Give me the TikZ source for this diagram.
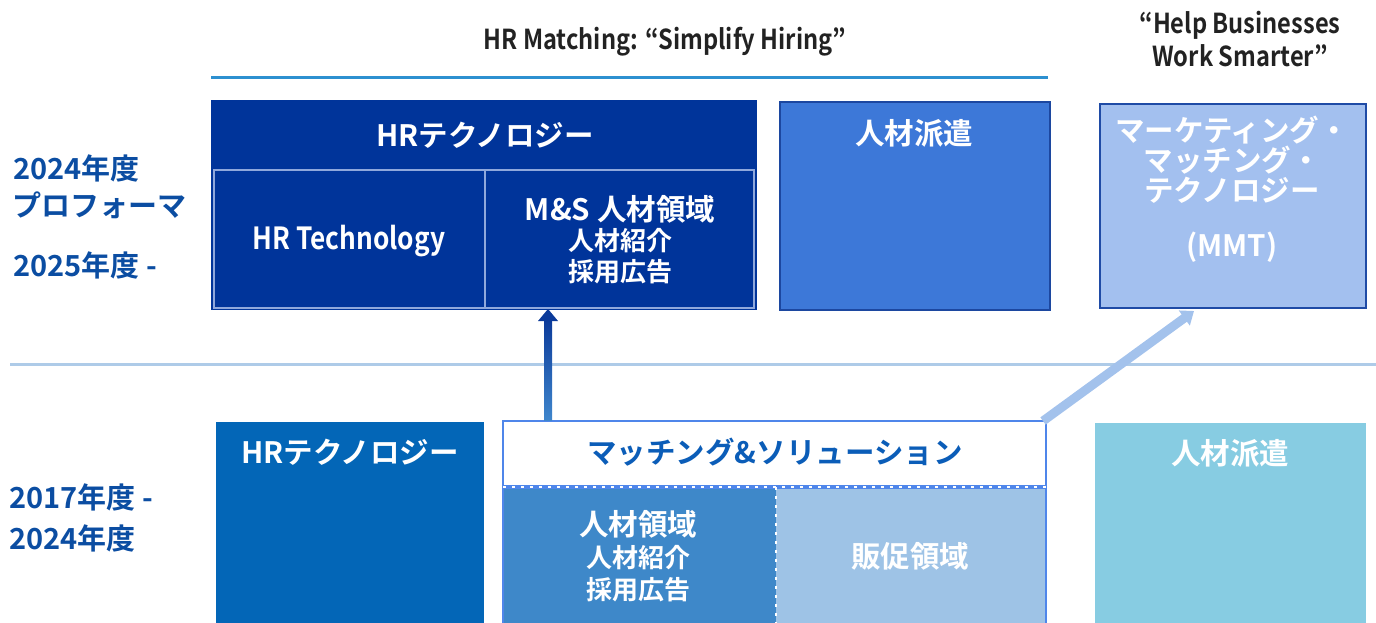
\documentclass[tikz,border=0pt]{standalone}
\usepackage{fontspec}
\setmainfont{Noto Sans CJK JP}
\newfontfamily\jpb{Noto Sans CJK JP Bold}
\newfontfamily\latb{Noto Sans CJK JP Bold}[FakeStretch=0.86]
\usetikzlibrary{arrows.meta,calc}
\definecolor{dkblue}{HTML}{00349A}
\definecolor{ltline}{HTML}{8FA8DC}
\definecolor{hakenA}{HTML}{3D78D8}
\definecolor{hakenAb}{HTML}{1C47A0}
\definecolor{mmtfill}{HTML}{A3C0EF}
\definecolor{mmtborder}{HTML}{1F4BA6}
\definecolor{hrtB}{HTML}{0366B7}
\definecolor{matchborder}{HTML}{4F86EA}
\definecolor{matchtext}{HTML}{0B5DB8}
\definecolor{jinzai}{HTML}{3E88C9}
\definecolor{hansoku}{HTML}{9EC3E6}
\definecolor{hakenB}{HTML}{87CCE2}
\definecolor{topline}{HTML}{2D90D0}
\definecolor{sepline}{HTML}{AECBE8}
\definecolor{yeartext}{HTML}{0B4DA2}
\definecolor{titletext}{HTML}{222222}
\definecolor{diagarrow}{HTML}{A3C2EC}
\definecolor{arrowdark}{HTML}{0B3A9A}
\definecolor{arrowmid}{HTML}{3F86CC}
\begin{document}
\begin{tikzpicture}[x=1pt,y=-1pt,
  box/.style={anchor=north west, inner sep=0pt, outer sep=0pt},
  wtxt/.style={text=white, inner sep=0pt, anchor=center, align=center},
  ttl/.style={text=titletext, inner sep=0pt, align=center, font=\latb\fontsize{27.5}{33}\selectfont},
  yr/.style={text=yeartext, inner sep=0pt, anchor=west, font=\jpb\fontsize{29}{30}\selectfont},
  big/.style={font=\jpb\fontsize{29.5}{32}\selectfont},
  bigl/.style={font=\latb\fontsize{30.5}{32}\selectfont},
  small/.style={font=\jpb\fontsize{26}{28}\selectfont}]
\useasboundingbox (0,0) rectangle (1376,623);
\clip (0,0) rectangle (1376,623);

% titles and rules
\node[ttl] (t1) at (665,42) {HR Matching: “Simplify Hiring”};
\node[ttl] (t2) at (1240,39) {“Help Businesses\\Work Smarter”};
\draw[topline, line width=3pt] (211,78) -- (1048,78);
\draw[sepline, line width=3pt] (10,364) -- (1376,364);

% year labels
\node[yr] (y1) at (13,168) {2024年度};
\node[yr] (y2) at (12,205) {プロフォーマ};
\node[yr] (y3) at (13,265) {2025年度 -};
\node[yr] (y4) at (9,497) {2017年度 -};
\node[yr] (y5) at (9,538) {2024年度};

% top row
\node[box, fill=dkblue, minimum width=546pt, minimum height=210pt] (hrblk) at (211,100) {};
\node[box, draw=ltline, line width=2pt, minimum width=271pt, minimum height=138pt] (hrtech) at (214,170) {};
\node[box, draw=ltline, line width=2pt, minimum width=269pt, minimum height=138pt] (msbox) at (485,170) {};
\node[wtxt, big] (hrhead) at (485,135) {HRテクノロジー};
\node[wtxt, bigl] (hrtechT) at (349,241) {HR Technology};
\node[wtxt, big] (msT1) at (620,209) {M\&S 人材領域};
\node[wtxt, small] (msT2) at (620,241) {人材紹介};
\node[wtxt, small] (msT3) at (620,272) {採用広告};

\node[box, fill=hakenA, draw=hakenAb, line width=2.5pt, minimum width=270pt, minimum height=208pt] (haken1) at (780,102) {};
\node[wtxt, big] (haken1T) at (914,133) {人材派遣};

\node[box, fill=mmtfill, draw=mmtborder, line width=2.5pt, minimum width=266pt, minimum height=204pt] (mmt) at (1100,104) {};
\node[wtxt, font=\jpb\fontsize{29.5}{30}\selectfont] (mmtT) at (1232,160) {マーケティング・\\マッチング・\\テクノロジー};
\node[wtxt, big] (mmtT2) at (1232,247) {(MMT)};

% bottom row
\node[box, fill=hrtB, minimum width=268pt, minimum height=220pt] (hrt2) at (216,422) {};
\node[wtxt, big] (hrt2T) at (350,452) {HRテクノロジー};

\node[box, fill=white, minimum width=543pt, minimum height=220pt] (match) at (503,421) {};
\node[box, fill=jinzai, minimum width=273pt, minimum height=150pt] (jinzai) at (503,487) {};
\node[box, fill=hansoku, minimum width=270pt, minimum height=150pt] (hansoku) at (776,487) {};
\draw[matchborder, line width=2.5pt] (match.south west) -- (match.north west) -- (match.north east) -- (match.south east);
\draw[matchborder, line width=3.5pt] (jinzai.north west) -- (hansoku.north east);
\draw[white, line width=2.5pt, dash pattern=on 2.5pt off 6.5pt] (jinzai.north west) -- (hansoku.north east);
\draw[white, line width=2.5pt, dash pattern=on 2.5pt off 6.5pt] (hansoku.north west) -- (hansoku.south west);
\node[inner sep=0pt, text=matchtext, big] (matchT) at (775,452) {マッチング\&ソリューション};
\node[wtxt, big] (jinzaiT1) at (638,524) {人材領域};
\node[wtxt, small] (jinzaiT2) at (638,558) {人材紹介};
\node[wtxt, small] (jinzaiT3) at (638,590) {採用広告};
\node[wtxt, big] (hansokuT) at (910,556) {販促領域};

\node[box, fill=hakenB, minimum width=271pt, minimum height=220pt] (haken2) at (1095,423) {};
\node[wtxt, big] (haken2T) at (1230,453) {人材派遣};

% arrows
\coordinate (a1s) at (548,420);
\coordinate (a1e) at (a1s |- msbox.south);
\shade[top color=arrowdark, bottom color=arrowmid] ($(a1s)+(-4,0)$) rectangle ($(a1e)+(4,11)$);
\fill[arrowdark] ($(a1e)+(0,1)$) -- ($(a1e)+(-10,13)$) -- ($(a1e)+(10,13)$) -- cycle;

\coordinate (a2s) at ($(match.north east)+(-3,0)$);
\coordinate (a2e) at (1194,311);
\draw[diagarrow, line width=9pt, -{Triangle[width=18pt,length=12pt]}] (a2s) -- (a2e);
\end{tikzpicture}
\end{document}
